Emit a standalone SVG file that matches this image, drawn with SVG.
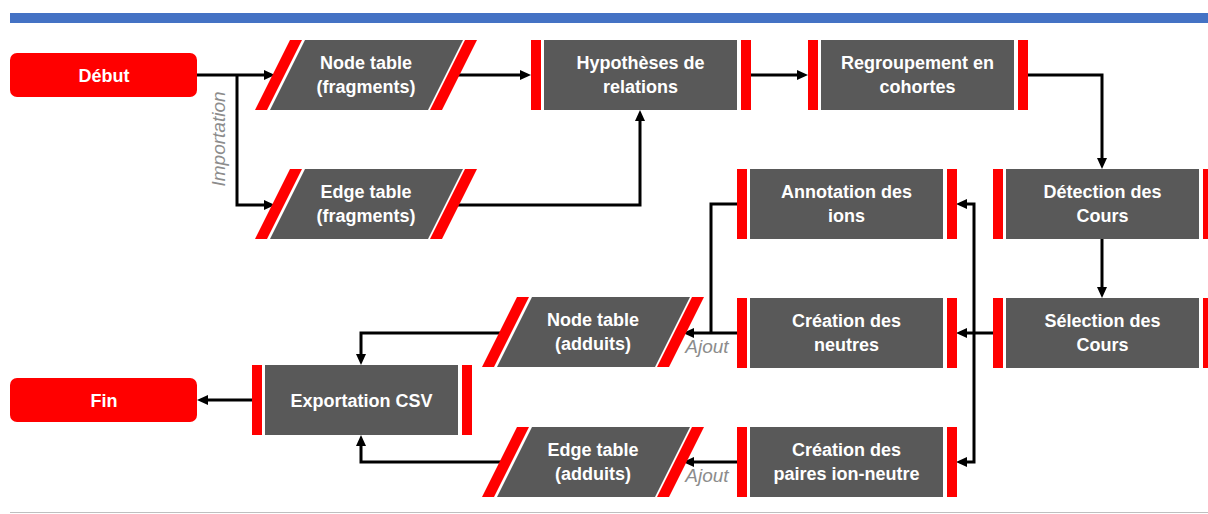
<svg xmlns="http://www.w3.org/2000/svg" width="1208" height="514" viewBox="0 0 1208 514">
  <defs>
    <style>
      .bar { fill: #FF0000; }
      .body { fill: #595959; }
      .term { fill: #FF0000; }
      .lbl { font-family: "Liberation Sans", Arial, sans-serif; font-weight: bold; font-size: 18px; fill: #FFFFFF; text-anchor: middle; }
      .note { font-family: "Liberation Sans", Arial, sans-serif; font-style: italic; font-size: 19px; fill: #8C8C8C; text-anchor: middle; }
      .wire { fill: none; stroke: #000000; stroke-width: 3; stroke-linejoin: miter; }
      .arrow { marker-end: url(#head); }
    </style>
    <marker id="head" viewBox="0 0 11 10" refX="6" refY="5" markerWidth="11" markerHeight="10" markerUnits="userSpaceOnUse" orient="auto-start-reverse">
      <path d="M0,0 L11,5 L0,10 z" fill="#000000"/>
    </marker>
    <!-- data shape: slanted body between two slanted red bands -->
    <g id="dataShape">
      <polygon class="bar" points="0,70 12,70 47,0 35,0"/>
      <polygon class="body" points="15,70 50,0 208,0 173,70"/>
      <polygon class="bar" points="175,70 187,70 222,0 210,0"/>
    </g>
    <!-- process shape: body framed by two vertical red bars -->
    <g id="procShape">
      <rect class="bar" x="0" y="0" width="10" height="70"/>
      <rect class="body" x="13" y="0" width="193" height="70"/>
      <rect class="bar" x="210" y="0" width="10" height="70"/>
    </g>
  </defs>

  <!-- page frame -->
  <rect x="10" y="13" width="1198" height="10" fill="#4472C4"/>
  <line x1="10" y1="512.5" x2="1208" y2="512.5" stroke="#BFBFBF" stroke-width="1"/>

  <!-- connectors -->
  <g id="connectors">
    <path class="wire arrow" d="M197,75 H270"/>
    <path class="wire arrow" d="M237,75 V205 H270"/>
    <path class="wire arrow" d="M455,75 H526"/>
    <path class="wire arrow" d="M455,205 H640 V115"/>
    <path class="wire arrow" d="M750,75 H803"/>
    <path class="wire arrow" d="M1027,75 H1102 V164"/>
    <path class="wire arrow" d="M1102,239 V293"/>
    <path class="wire" d="M961,204 H974 V462 H961" marker-start="url(#head)" marker-end="url(#head)"/>
    <path class="wire arrow" d="M993,333 H961"/>
    <path class="wire" d="M737,204 H711 V333"/>
    <path class="wire arrow" d="M737,333 H688"/>
    <path class="wire arrow" d="M737,462 H688"/>
    <path class="wire arrow" d="M503,333 H361 V360"/>
    <path class="wire arrow" d="M503,462 H361 V440"/>
    <path class="wire arrow" d="M252,400 H202"/>
    <text class="note" transform="translate(225,139) rotate(-90)">Importation</text>
    <text class="note" x="707" y="353">Ajout</text>
    <text class="note" x="707" y="482">Ajout</text>
  </g>

  <!-- terminals -->
  <g id="debut">
    <rect class="term" x="10" y="53" width="187" height="44" rx="7"/>
    <text class="lbl" x="104" y="82">Début</text>
  </g>
  <g id="fin">
    <rect class="term" x="10" y="378" width="187" height="44" rx="7"/>
    <text class="lbl" x="104" y="407">Fin</text>
  </g>

  <!-- data tables -->
  <g id="node-table-fragments" transform="translate(255,40)">
    <use href="#dataShape"/>
    <text class="lbl" x="111" y="29">Node table</text>
    <text class="lbl" x="111" y="53">(fragments)</text>
  </g>
  <g id="edge-table-fragments" transform="translate(255,169)">
    <use href="#dataShape"/>
    <text class="lbl" x="111" y="29">Edge table</text>
    <text class="lbl" x="111" y="53">(fragments)</text>
  </g>
  <g id="node-table-adduits" transform="translate(482,297)">
    <use href="#dataShape"/>
    <text class="lbl" x="111" y="29">Node table</text>
    <text class="lbl" x="111" y="53">(adduits)</text>
  </g>
  <g id="edge-table-adduits" transform="translate(482,427)">
    <use href="#dataShape"/>
    <text class="lbl" x="111" y="29">Edge table</text>
    <text class="lbl" x="111" y="53">(adduits)</text>
  </g>

  <!-- processes -->
  <g id="hypotheses" transform="translate(531,40)">
    <use href="#procShape"/>
    <text class="lbl" x="109.5" y="29">Hypothèses de</text>
    <text class="lbl" x="109.5" y="53">relations</text>
  </g>
  <g id="regroupement" transform="translate(808,40)">
    <use href="#procShape"/>
    <text class="lbl" x="109.5" y="29">Regroupement en</text>
    <text class="lbl" x="109.5" y="53">cohortes</text>
  </g>
  <g id="detection" transform="translate(993,169)">
    <use href="#procShape"/>
    <text class="lbl" x="109.5" y="29">Détection des</text>
    <text class="lbl" x="109.5" y="53">Cours</text>
  </g>
  <g id="selection" transform="translate(993,298)">
    <use href="#procShape"/>
    <text class="lbl" x="109.5" y="29">Sélection des</text>
    <text class="lbl" x="109.5" y="53">Cours</text>
  </g>
  <g id="annotation" transform="translate(737,169)">
    <use href="#procShape"/>
    <text class="lbl" x="109.5" y="29">Annotation des</text>
    <text class="lbl" x="109.5" y="53">ions</text>
  </g>
  <g id="creation-neutres" transform="translate(737,298)">
    <use href="#procShape"/>
    <text class="lbl" x="109.5" y="29">Création des</text>
    <text class="lbl" x="109.5" y="53">neutres</text>
  </g>
  <g id="creation-paires" transform="translate(737,427)">
    <use href="#procShape"/>
    <text class="lbl" x="109.5" y="29">Création des</text>
    <text class="lbl" x="109.5" y="53">paires ion-neutre</text>
  </g>
  <g id="exportation" transform="translate(252,365)">
    <use href="#procShape"/>
    <text class="lbl" x="109.5" y="42">Exportation CSV</text>
  </g>
</svg>
